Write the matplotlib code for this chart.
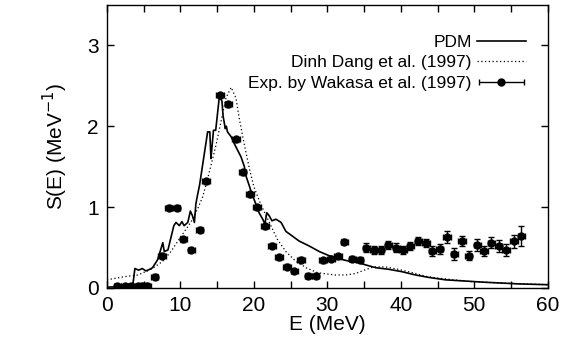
import numpy as np
import matplotlib.pyplot as plt
from matplotlib.ticker import MultipleLocator
from matplotlib.container import ErrorbarContainer
from matplotlib.legend_handler import HandlerErrorbar

plt.rcParams['font.family'] = ['Liberation Sans', 'DejaVu Sans']

# PDM (solid line)
pdm_E = [0.0, 3.5, 3.8, 4.3, 4.8, 5.3, 5.8, 6.2, 6.9, 7.3, 7.6, 7.8, 8.3, 8.7, 9.1, 9.4,
         9.85, 10.2, 10.5, 11.0, 11.35, 11.65, 11.9, 12.1, 12.35, 12.6, 13.7, 14.0, 14.15,
         14.3, 14.5, 14.8, 15.3, 15.65, 15.8, 16.1, 16.25, 16.4, 16.9, 17.3, 17.8, 18.25,
         18.7, 18.9, 19.35, 19.8, 20.0, 20.7, 21.2, 21.5, 21.75, 22.1, 22.45, 23.0, 23.7,
         24.35, 25.25, 26.15, 27.5, 28.9, 30.2, 31.6, 33.0, 34.3, 35.4, 36.6, 38.4, 40.2,
         42.0, 43.8, 46.1, 47.9, 49.7, 51.5, 53.8, 56.0, 60.0]
pdm_S = [0.01, 0.02, 0.24, 0.22, 0.24, 0.21, 0.23, 0.25, 0.35, 0.47, 0.56, 0.45, 0.47, 0.62,
         0.77, 0.81, 0.77, 0.82, 0.77, 0.81, 0.95, 0.89, 0.81, 1.04, 1.16, 1.27, 1.93, 1.93,
         1.60, 1.75, 1.95, 1.95, 2.37, 2.31, 2.13, 1.97, 2.00, 1.93, 1.87, 1.79, 1.70, 1.62,
         1.50, 1.39, 1.27, 1.14, 1.10, 0.93, 0.85, 0.79, 0.93, 0.89, 0.83, 0.85, 0.81, 0.70,
         0.64, 0.58, 0.52, 0.45, 0.40, 0.36, 0.33, 0.31, 0.28, 0.25, 0.23, 0.20, 0.16, 0.13,
         0.10, 0.09, 0.08, 0.07, 0.06, 0.05, 0.04]

# Dinh Dang et al. (1997) (dotted line)
dang_E = [0.0, 2.4, 4.2, 6.0, 7.6, 8.7, 10.1, 11.4, 12.35, 13.0, 13.7, 14.8, 15.5, 16.2,
          16.9, 17.55, 18.0, 18.7, 19.4, 20.0, 20.95, 22.1, 23.2, 24.35, 25.7, 27.1, 28.6,
          29.3, 31.1, 32.5, 33.9, 35.0, 36.3, 37.9, 39.7, 41.5, 43.6, 45.2, 49.3, 53.8, 60.0]
dang_S = [0.10, 0.14, 0.16, 0.23, 0.33, 0.45, 0.64, 0.81, 0.98, 1.12, 1.35, 1.75, 2.05, 2.35,
          2.48, 2.35, 2.10, 1.77, 1.47, 1.25, 1.03, 0.81, 0.60, 0.45, 0.33, 0.25, 0.19,
          0.18, 0.16, 0.16, 0.18, 0.22, 0.26, 0.26, 0.23, 0.19, 0.14, 0.12, 0.08, 0.06, 0.04]

# Exp. by Wakasa et al. (1997)
exp_E = [1.4, 2.4, 3.3, 4.2, 4.8, 5.5, 6.5, 7.5, 8.4, 9.5, 10.4, 11.5, 12.6, 13.5, 15.4,
         16.5, 17.55, 18.45, 19.45, 20.4, 21.5, 22.45, 23.4, 24.5, 25.5, 26.4, 27.4, 28.4,
         29.4, 30.5, 31.45, 32.3, 33.4, 34.4, 35.3, 36.3, 37.25, 38.3, 39.4, 40.3, 41.3,
         42.4, 43.4, 44.3, 45.3, 46.3, 47.3, 48.3, 49.25, 50.4, 51.3, 52.3, 53.3, 54.3,
         55.4, 56.4]
exp_S = [0.02, 0.02, 0.02, 0.02, 0.03, 0.03, 0.14, 0.40, 0.99, 0.99, 0.60, 0.47, 0.72, 1.32,
         2.38, 2.27, 1.84, 1.43, 1.16, 1.00, 0.76, 0.52, 0.38, 0.26, 0.21, 0.35, 0.15, 0.15,
         0.34, 0.36, 0.39, 0.57, 0.36, 0.35, 0.50, 0.47, 0.47, 0.53, 0.50, 0.47, 0.52, 0.58,
         0.56, 0.46, 0.48, 0.63, 0.42, 0.58, 0.40, 0.53, 0.46, 0.56, 0.52, 0.47, 0.58, 0.64]
exp_dS = [0.03, 0.03, 0.03, 0.03, 0.03, 0.03, 0.03, 0.03, 0.03, 0.03, 0.03, 0.03, 0.03, 0.03,
          0.03, 0.03, 0.03, 0.03, 0.03, 0.03, 0.03, 0.03, 0.03, 0.03, 0.03, 0.03, 0.03, 0.03,
          0.03, 0.03, 0.03, 0.03, 0.03, 0.03, 0.05, 0.05, 0.05, 0.05, 0.05, 0.05, 0.05, 0.05,
          0.05, 0.06, 0.06, 0.08, 0.07, 0.06, 0.06, 0.07, 0.06, 0.07, 0.07, 0.07, 0.08, 0.12]
exp_dE = 0.5

fig = plt.figure(figsize=(5.63, 3.52), dpi=100)
ax = fig.add_axes([0.190, 0.182, 0.783, 0.804])

ax.plot(pdm_E, pdm_S, color='black', lw=1.2, label='PDM')
ax.plot(dang_E, dang_S, color='black', lw=0.9, ls=(0, (1, 2)), label='Dinh Dang et al. (1997)')
ax.errorbar(exp_E, exp_S, xerr=exp_dE, yerr=exp_dS, fmt='o', color='black', ms=5,
            elinewidth=1.0, capsize=2, label='Exp. by Wakasa et al. (1997)')

ax.set_xlim(0, 60)
ax.set_ylim(0, 3.5)
ax.xaxis.set_major_locator(MultipleLocator(10))
ax.xaxis.set_minor_locator(MultipleLocator(5))
ax.yaxis.set_major_locator(MultipleLocator(1))
ax.tick_params(which='both', direction='in', top=True, right=True, length=5, width=1,
               labelsize=15, pad=6)
for s in ax.spines.values():
    s.set_linewidth(1.0)

ax.set_xlabel('E (MeV)', fontsize=15, labelpad=0)
ax.set_ylabel('S(E) (MeV$^{-1}$)', fontsize=15, labelpad=12)

ax.legend(loc='upper right', frameon=False, markerfirst=False, fontsize=12.5,
          handlelength=2.8, handletextpad=0.3, labelspacing=0.3,
          bbox_to_anchor=(0.985, 0.95),
          handler_map={ErrorbarContainer: HandlerErrorbar(xerr_size=1.3, yerr_size=0.0)})

fig.savefig('out.png', dpi=100)
